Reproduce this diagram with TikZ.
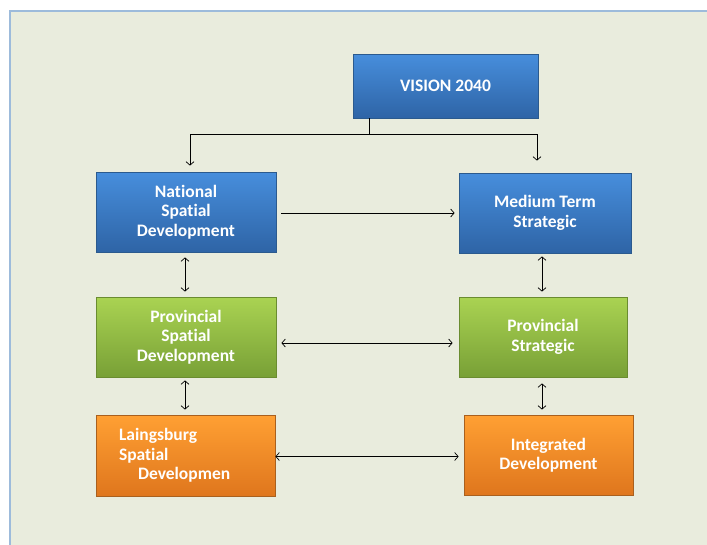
\documentclass[tikz,border=0pt]{standalone}
\usepackage{fontspec}
\setmainfont{Carlito}[Ligatures=NoCommon]
\usetikzlibrary{arrows.meta}

\definecolor{panelbg}{HTML}{E9ECDD}
\definecolor{panelline}{HTML}{9DBBDB}
\definecolor{bluetop}{HTML}{478EDC}
\definecolor{bluebot}{HTML}{2E64A6}
\definecolor{blueedge}{HTML}{2B5A8E}
\definecolor{greentop}{HTML}{AAD352}
\definecolor{greenbot}{HTML}{78A036}
\definecolor{greenedge}{HTML}{6A8C30}
\definecolor{orangetop}{HTML}{FFA033}
\definecolor{orangebot}{HTML}{DF761D}
\definecolor{orangeedge}{HTML}{A9601E}

\tikzset{
  block/.style={inner sep=0pt, align=center, text=white, line width=0.8pt,
    font=\bfseries\fontsize{17.5}{19.5}\selectfont},
  blueblock/.style={block, draw=blueedge, top color=bluetop, bottom color=bluebot},
  greenblock/.style={block, draw=greenedge, top color=greentop, bottom color=greenbot},
  orangeblock/.style={block, draw=orangeedge, top color=orangetop, bottom color=orangebot},
  link/.style={-{Straight Barb[length=3.5pt,width=8pt]}, line width=0.7pt},
  twolink/.style={{Straight Barb[length=3.5pt,width=8pt]}-{Straight Barb[length=3.5pt,width=8pt]}, line width=0.7pt}
}

\begin{document}
\begin{tikzpicture}[x=1pt, y=-1pt]
            \useasboundingbox (0,0) rectangle (707,544);
            \draw[panelline, fill=panelbg, line width=1.5pt] (10,11) rectangle (730,570);

            \node[blueblock, minimum width=185pt, minimum height=64pt] (vision) at (445.5,86) {VISION 2040};
            \node[blueblock, minimum width=180pt, minimum height=80pt] (natl) at (186,212) {National\\Spatial\\Development};
            \node[blueblock, minimum width=172pt, minimum height=80pt] (medium) at (545,213) {Medium Term\\Strategic};
            \node[greenblock, minimum width=180pt, minimum height=80pt] (pspatial) at (186,337) {Provincial\\Spatial\\Development};
            \node[greenblock, minimum width=168pt, minimum height=80pt] (pstrat) at (543,337) {Provincial\\Strategic};
            \node[orangeblock, minimum width=179pt, minimum height=81pt, text width=133pt, align=left] (laing) at (185.5,455.5) {Laingsburg\\Spatial\\\hspace*{19pt}Developmen};
            \node[orangeblock, minimum width=169pt, minimum height=80pt] (integ) at (548.5,455) {Integrated\\Development};

            \draw[line width=0.7pt] ([xshift=17pt]vision.south west) -- ++(0,16) coordinate (split);
            \draw[link] (split) -| ([xshift=4pt,yshift=6pt]natl.north);
            \draw[link] (split) -| ([xshift=-8pt,yshift=12pt]medium.north);
            \draw[link, shorten <=5pt, shorten >=4pt] ([yshift=-1pt]natl.east) -- ([yshift=-1pt]natl.east -| medium.west);

            \draw[twolink, shorten <=5pt, shorten >=5pt] ([xshift=-1pt]natl.south) -- ([xshift=-1pt]pspatial.north);
            \draw[twolink, shorten <=3pt, shorten >=5pt] ([xshift=-1pt]pspatial.south) -- ([xshift=-1pt]laing.north -| pspatial.south);
            \draw[twolink, shorten <=3pt, shorten >=5pt] ([xshift=-3pt]medium.south) -- ([xshift=-3pt]medium.south |- pstrat.north);
            \draw[twolink, shorten <=6pt, shorten >=5pt] ([xshift=-1pt]pstrat.south) -- ([xshift=-1pt]pstrat.south |- integ.north);

            \draw[twolink, shorten <=5pt, shorten >=6pt] ([yshift=-6pt]pspatial.east) -- ([yshift=-6pt]pspatial.east -| pstrat.west);
            \draw[twolink, shorten >=5pt] ([yshift=-1pt]laing.east) -- ([yshift=-1pt]laing.east -| integ.west);
        \end{tikzpicture}
\end{document}
